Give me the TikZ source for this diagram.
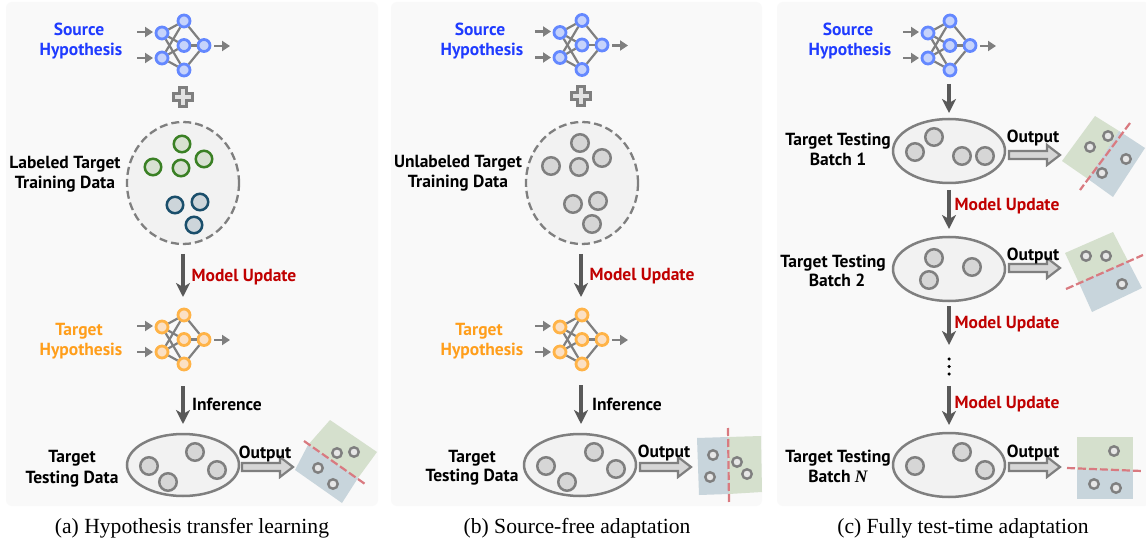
\documentclass[tikz,border=0pt]{standalone}
\usepackage{fontspec}
\setsansfont{PT Sans}
\setmainfont{Liberation Serif}
\usetikzlibrary{arrows.meta}
\definecolor{panel}{HTML}{F9F9F9}
\definecolor{setfill}{HTML}{F2F2F2}
\definecolor{setline}{HTML}{7F7F7F}
\definecolor{srctext}{HTML}{1F3BFF}
\definecolor{srcfill}{HTML}{C6D3FB}
\definecolor{srcline}{HTML}{6488FF}
\definecolor{tgttext}{HTML}{FF9E1B}
\definecolor{tgtfill}{HTML}{FBE0C4}
\definecolor{tgtline}{HTML}{FFB347}
\definecolor{grnline}{HTML}{3A8024}
\definecolor{grnfill}{HTML}{D8E1D2}
\definecolor{blueline}{HTML}{1A4E6B}
\definecolor{bluefill}{HTML}{CDD5DA}
\definecolor{grayfill}{HTML}{D6D6D6}
\definecolor{sqgreen}{HTML}{D5E0CD}
\definecolor{sqblue}{HTML}{C8D5DC}
\definecolor{cutline}{HTML}{D97A80}
\definecolor{updtext}{HTML}{C00000}
\definecolor{darkarrow}{HTML}{595959}
\tikzset{
  panelbox/.style={fill=panel,draw=none,rounded corners=6pt},
  lbl/.style={font=\sffamily\bfseries\fontsize{17.5}{17.5}\selectfont,inner sep=0pt,text=black,anchor=center,text height=12pt,text depth=0pt},
  srclbl/.style={lbl,text=srctext},
  tgtlbl/.style={lbl,text=tgttext},
  updlbl/.style={lbl,text=updtext},
  caplbl/.style={font=\rmfamily\fontsize{21.6}{21.6}\selectfont,inner sep=0pt,text=black,text height=14pt,text depth=0pt},
  srcnode/.style={circle,draw=srcline,fill=srcfill,line width=2.8pt,minimum size=12pt,inner sep=0pt},
  tgtnode/.style={circle,draw=tgtline,fill=tgtfill,line width=2.8pt,minimum size=12pt,inner sep=0pt},
  netedge/.style={draw=setline,line width=2.2pt},
  netarrow/.style={draw=setline,line width=2.5pt,-{Triangle[length=8pt,width=10pt]}},
  flowarrow/.style={draw=darkarrow,line width=3.5pt,-{Stealth[length=14pt,width=14pt,inset=4pt]}},
  trainset/.style={draw=setline,fill=setfill,line width=2.3pt,dash pattern=on 8pt off 4pt},
  testset/.style={draw=setline,fill=setfill,line width=2.5pt},
  grnpt/.style={circle,draw=grnline,fill=grnfill,line width=2.5pt,minimum size=16.5pt,inner sep=0pt},
  bluept/.style={circle,draw=blueline,fill=bluefill,line width=2.5pt,minimum size=16.5pt,inner sep=0pt},
  graypt/.style={circle,draw=setline,fill=grayfill,line width=2.5pt,minimum size=17.5pt,inner sep=0pt},
  smallpt/.style={circle,draw=setline,fill=grayfill!60!white,line width=2.4pt,minimum size=9.5pt,inner sep=0pt},
  cutstyle/.style={draw=cutline,line width=2.2pt,dash pattern=on 8pt off 3pt},
  fatstyle/.style={draw=setline,fill=grayfill,line width=2.2pt,line join=miter},
  plusmark/.style={draw=setline,fill=grayfill!70!white,line width=2.3pt,line join=miter},
}
% network: prefix, input x, y offset, node style
\newcommand{\nnet}[4]{%
  \node[#4] (#1i1) at (#2,33+#3) {};
  \node[#4] (#1i2) at (#2,58+#3) {};
  \node[#4] (#1h1) at (#2+22,21+#3) {};
  \node[#4] (#1h2) at (#2+22,45.5+#3) {};
  \node[#4] (#1h3) at (#2+22,70+#3) {};
  \node[#4] (#1o) at (#2+42,45.5+#3) {};
  \coordinate (#1a1) at (#2-25,32+#3);
  \coordinate (#1b1) at (#2-9,32+#3);
  \coordinate (#1a2) at (#2-25,58+#3);
  \coordinate (#1b2) at (#2-9,58+#3);
  \coordinate (#1a3) at (#2+52,46+#3);
  \coordinate (#1b3) at (#2+68,46+#3);
  \foreach \s/\t in {i1/h1,i1/h2,i1/h3,i2/h1,i2/h2,i2/h3,h1/o,h2/o,h3/o}
    \draw[netedge] (#1\s) -- (#1\t);
  \draw[netarrow] (#1a1) -- (#1b1);
  \draw[netarrow] (#1a2) -- (#1b2);
  \draw[netarrow] (#1a3) -- (#1b3);
}
% vertical flow arrow: name, x, y1, y2
\newcommand{\vflow}[4]{%
  \coordinate (#1s) at (#2,#3);
  \coordinate (#1e) at (#2,#4);
  \draw[flowarrow] (#1s) -- (#1e);
}
% fat output arrow: left x, y
\newcommand{\fatarrow}[2]{%
  \draw[fatstyle] (#1,#2-4) -- (#1+38,#2-4) -- (#1+38,#2-10) -- (#1+51,#2) -- (#1+38,#2+10) -- (#1+38,#2+4) -- (#1,#2+4) -- cycle;
}
\newcommand{\plusat}[2]{%
  \draw[plusmark] (#1-3.5,#2-9.5) -- (#1+3.5,#2-9.5) -- (#1+3.5,#2-3.5) -- (#1+9.5,#2-3.5) -- (#1+9.5,#2+3.5) -- (#1+3.5,#2+3.5) -- (#1+3.5,#2+9.5) -- (#1-3.5,#2+9.5) -- (#1-3.5,#2+3.5) -- (#1-9.5,#2+3.5) -- (#1-9.5,#2-3.5) -- (#1-3.5,#2-3.5) -- cycle;
}
\begin{document}
\begin{tikzpicture}[x=1pt,y=-1pt]
\useasboundingbox (0,0) rectangle (1146,540);
\fill[white] (0,0) rectangle (1146,540);
% panels
\path[panelbox] (6,2) rectangle (378,506);
\path[panelbox] (391,2) rectangle (762,506);
\path[panelbox] (777,2) rectangle (1150,506);

%%% panel a
\node[srclbl] (aS1) at (79,30) {Source};
\node[srclbl] (aS2) at (81,50) {Hypothesis};
\nnet{as}{162}{0}{srcnode}
\plusat{183}{97}
\node[lbl] (aL1) at (65,163) {Labeled Target};
\node[lbl] (aL2) at (65,183) {Training Data};
\draw[trainset] (183,183) ellipse [x radius=56,y radius=61];
\foreach \n/\x/\y in {ag1/182/144,ag2/153/167,ag3/181/168,ag4/204/159}
  \node[grnpt] (\n) at (\x,\y) {};
\foreach \n/\x/\y in {ab1/175/205,ab2/200/202,ab3/194/225}
  \node[bluept] (\n) at (\x,\y) {};
\vflow{au}{183}{254}{297}
\node[updlbl] (aU) at (244,275) {Model Update};
\node[tgtlbl] (aT1) at (79,329) {Target};
\node[tgtlbl] (aT2) at (81,349) {Hypothesis};
\nnet{at}{162}{294}{tgtnode}
\vflow{ai}{183}{386}{424}
\node[lbl] (aI) at (227,404) {Inference};
\node[lbl] (aD1) at (72,456) {Target};
\node[lbl] (aD2) at (72,477) {Testing Data};
\draw[testset] (183,465) ellipse [x radius=56,y radius=31];
\foreach \n/\x/\y in {ad1/149/466,ad2/168/482,ad3/195/452,ad4/217/470}
  \node[graypt] (\n) at (\x,\y) {};
\fatarrow{242}{467}
\node[lbl] (aO) at (265,452) {Output};
\fill[sqgreen] (330,420) -- (377,452) -- (358,478) -- (308,445) -- cycle;
\fill[sqblue] (308,445) -- (358,478) -- (342,503) -- (295,470) -- cycle;
\coordinate (acs) at (304,441);
\coordinate (ace) at (365,484);
\draw[cutstyle] (acs) -- (ace);
\foreach \n/\x/\y in {ao1/337/453,ao2/354/452,ao3/318/468,ao4/333/484}
  \node[smallpt] (\n) at (\x,\y) {};
\node[caplbl] (aC) at (192,526) {(a) Hypothesis transfer learning};

%%% panel b
\node[srclbl] (bS1) at (480,30) {Source};
\node[srclbl] (bS2) at (482,50) {Hypothesis};
\nnet{bs}{560}{-0.5}{srcnode}
\plusat{581}{96}
\node[lbl] (bL1) at (458,162) {Unlabeled Target};
\node[lbl] (bL2) at (458,182) {Training Data};
\draw[trainset] (582,183) ellipse [x radius=56,y radius=61];
\foreach \n/\x/\y in {bp1/580/143,bp2/551/166,bp3/579/167,bp4/602/158,bp5/573/204,bp6/598/201,bp7/592/224}
  \node[graypt] (\n) at (\x,\y) {};
\vflow{bu}{581}{254}{297}
\node[updlbl] (bU) at (642,274) {Model Update};
\node[tgtlbl] (bT1) at (479,329) {Target};
\node[tgtlbl] (bT2) at (482,349) {Hypothesis};
\nnet{bt}{560}{294}{tgtnode}
\vflow{bi}{581}{385}{424}
\node[lbl] (bI) at (627,404) {Inference};
\node[lbl] (bD1) at (472,456) {Target};
\node[lbl] (bD2) at (472,475) {Testing Data};
\draw[testset] (580,465) ellipse [x radius=56,y radius=31];
\foreach \n/\x/\y in {bd1/546/466,bd2/567/482,bd3/594/452,bd4/616/469}
  \node[graypt] (\n) at (\x,\y) {};
\fatarrow{640}{467}
\node[lbl] (bO) at (664,451) {Output};
\fill[sqblue] (697,438) -- (728,437) -- (729,494) -- (699,495) -- cycle;
\fill[sqgreen] (728,437) -- (761,436) -- (762,492) -- (729,494) -- cycle;
\coordinate (bcs) at (728,428);
\coordinate (bce) at (729,502);
\draw[cutstyle] (bcs) -- (bce);
\foreach \n/\x/\y in {bo1/713/455,bo2/710/477,bo3/737/462,bo4/747/474}
  \node[smallpt] (\n) at (\x,\y) {};
\node[caplbl] (bC) at (577,526) {(b) Source-free adaptation};

%%% panel c
\node[srclbl] (cS1) at (848,30) {Source};
\node[srclbl] (cS2) at (850,50) {Hypothesis};
\nnet{cs}{928}{0}{srcnode}
\vflow{c0}{949}{84}{113}
\node[lbl] (c1L1) at (838,140) {Target Testing};
\node[lbl] (c1L2) at (838,160) {Batch 1};
\draw[testset] (949,151) ellipse [x radius=56,y radius=32];
\foreach \n/\x/\y in {c1a/915/152,c1b/934/137,c1c/962/156,c1d/985/156}
  \node[graypt] (\n) at (\x,\y) {};
\fatarrow{1009}{155}
\node[lbl] (c1O) at (1033,137) {Output};
\fill[sqgreen] (1095,116) -- (1119,131) -- (1088,179) -- (1062,161) -- cycle;
\fill[sqblue] (1119,131) -- (1145,148) -- (1113,197) -- (1088,179) -- cycle;
\coordinate (c1s) at (1130,123);
\coordinate (c1e) at (1080,190);
\draw[cutstyle] (c1s) -- (c1e);
\foreach \n/\x/\y in {c1p/1090/147,c1q/1108/136,c1r/1126/159,c1t/1102/173}
  \node[smallpt] (\n) at (\x,\y) {};
\vflow{c1u}{949}{190}{229}
\node[updlbl] (c1U) at (1007,205) {Model Update};
\node[lbl] (c2L1) at (833,261) {Target Testing};
\node[lbl] (c2L2) at (837,281) {Batch 2};
\draw[testset] (949,269) ellipse [x radius=56,y radius=32];
\foreach \n/\x/\y in {c2a/934/258,c2b/972/267,c2c/929/280}
  \node[graypt] (\n) at (\x,\y) {};
\fatarrow{1009}{268}
\node[lbl] (c2O) at (1033,254) {Output};
\fill[sqgreen] (1113,232) -- (1128,261) -- (1079,283) -- (1065,253) -- cycle;
\fill[sqblue] (1128,261) -- (1142,288) -- (1092,312) -- (1079,283) -- cycle;
\coordinate (c2s) at (1066,289);
\coordinate (c2e) at (1143,255);
\draw[cutstyle] (c2s) -- (c2e);
\foreach \n/\x/\y in {c2p/1086/256,c2q/1106/256,c2r/1122/284}
  \node[smallpt] (\n) at (\x,\y) {};
\vflow{c2u}{949}{306}{345}
\node[updlbl] (c2U) at (1007,322) {Model Update};
\foreach \n/\y in {cd1/359,cd2/366.5,cd3/374}
  \node[circle,fill=black,minimum size=3.5pt,inner sep=0pt] (\n) at (949,\y) {};
\vflow{c3u}{949}{386}{425}
\node[updlbl] (c3U) at (1007,402) {Model Update};
\node[lbl] (cNL1) at (838,456) {Target Testing};
\node[lbl] (cNL2) at (838,476) {Batch {\rmfamily\itshape N}};
\draw[testset] (949,465) ellipse [x radius=56,y radius=32];
\foreach \n/\x/\y in {cNa/915/466,cNb/962/452,cNc/985/470}
  \node[graypt] (\n) at (\x,\y) {};
\fatarrow{1009}{467}
\node[lbl] (cNO) at (1033,451) {Output};
\fill[sqgreen] (1077,437) rectangle (1133,470);
\fill[sqblue] (1077,470) rectangle (1133,499);
\coordinate (cNs) at (1067,468);
\coordinate (cNe) at (1142,471);
\draw[cutstyle] (cNs) -- (cNe);
\foreach \n/\x/\y in {cNp/1114/451,cNq/1094/484,cNr/1116/488}
  \node[smallpt] (\n) at (\x,\y) {};
\node[caplbl] (cC) at (963,526) {(c) Fully test-time adaptation};
\end{tikzpicture}
\end{document}
